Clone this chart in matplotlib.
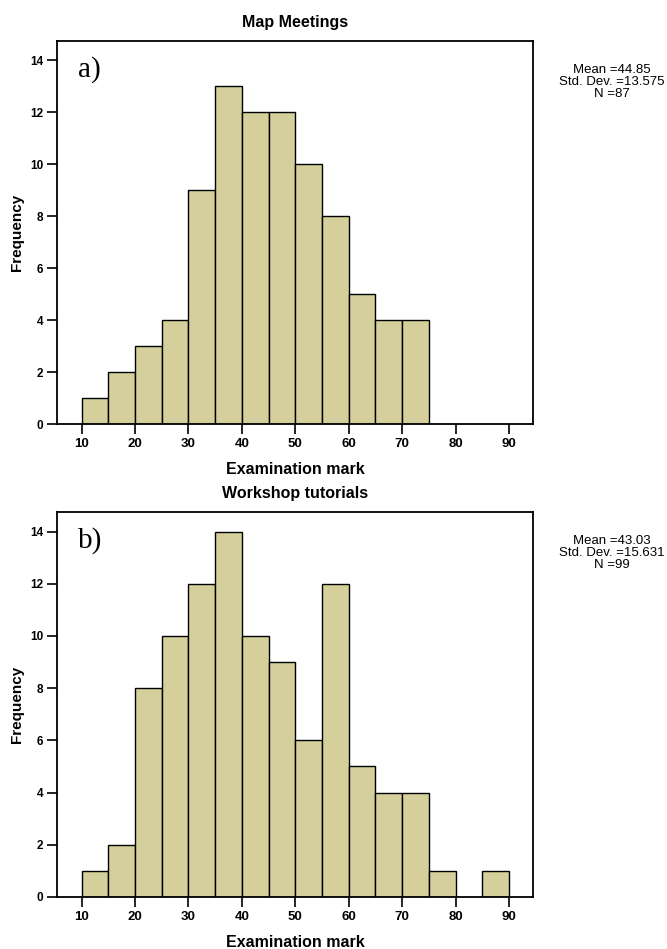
import matplotlib
matplotlib.use("Agg")
import matplotlib.pyplot as plt
import numpy as np

bin_edges = [10, 15, 20, 25, 30, 35, 40, 45, 50, 55, 60, 65, 70, 75, 80, 85, 90]
counts_a = [1, 2, 3, 4, 9, 13, 12, 12, 10, 8, 5, 4, 4, 0, 0, 0]
counts_b = [1, 2, 8, 10, 12, 14, 10, 9, 6, 12, 5, 4, 4, 1, 0, 1]
xticks = [10, 20, 30, 40, 50, 60, 70, 80, 90]
yticks = [0, 2, 4, 6, 8, 10, 12, 14]
titles = ["Map Meetings", "Workshop tutorials"]
panel_labels = ["a)", "b)"]
stats = ["Mean =44.85\nStd. Dev. =13.575\nN =87",
         "Mean =43.03\nStd. Dev. =15.631\nN =99"]

plt.rcParams['font.family'] = ['Liberation Sans', 'DejaVu Sans']

fig = plt.figure(figsize=(6.67, 9.49), dpi=100)
rects = [[0.0855, 0.5532, 0.7136, 0.4036], [0.0855, 0.0548, 0.7136, 0.4057]]
bar_color = "#D4CF9B"

for i, counts in enumerate([counts_a, counts_b]):
    ax = fig.add_axes(rects[i])
    lefts = np.array(bin_edges[:-1])
    widths = np.diff(bin_edges)
    c = np.array(counts)
    m = c > 0
    ax.bar(lefts[m], c[m], width=widths[m], align='edge', color=bar_color,
           edgecolor='black', linewidth=1.0)
    ax.set_xlim(5.4, 94.5)
    ax.set_ylim(0, 14.75)
    ax.set_xticks(xticks)
    ax.set_yticks(yticks)
    ax.tick_params(direction='out', length=7, width=1.2, pad=3)
    ax.tick_params(axis='x', labelsize=9.5)
    ax.tick_params(axis='y', labelsize=8.5)
    for lab in ax.get_xticklabels() + ax.get_yticklabels():
        lab.set_fontweight('bold')
    for s in ax.spines.values():
        s.set_linewidth(1.3)
    ax.set_ylabel("Frequency", fontsize=11, fontweight='bold', labelpad=4)
    ax.set_xlabel("Examination mark", fontsize=11.5, fontweight='bold', labelpad=9)
    ax.set_title(titles[i], fontsize=11.5, fontweight='bold', pad=10)
    ax.text(0.045, 0.925, panel_labels[i], transform=ax.transAxes,
            fontsize=21, family='Liberation Serif', va='center', ha='left')
    ax.text(1.165, 0.94, stats[i], transform=ax.transAxes, ha='center', va='top',
            fontsize=9.5, linespacing=1.0)

fig.savefig("out.png", dpi=100)
